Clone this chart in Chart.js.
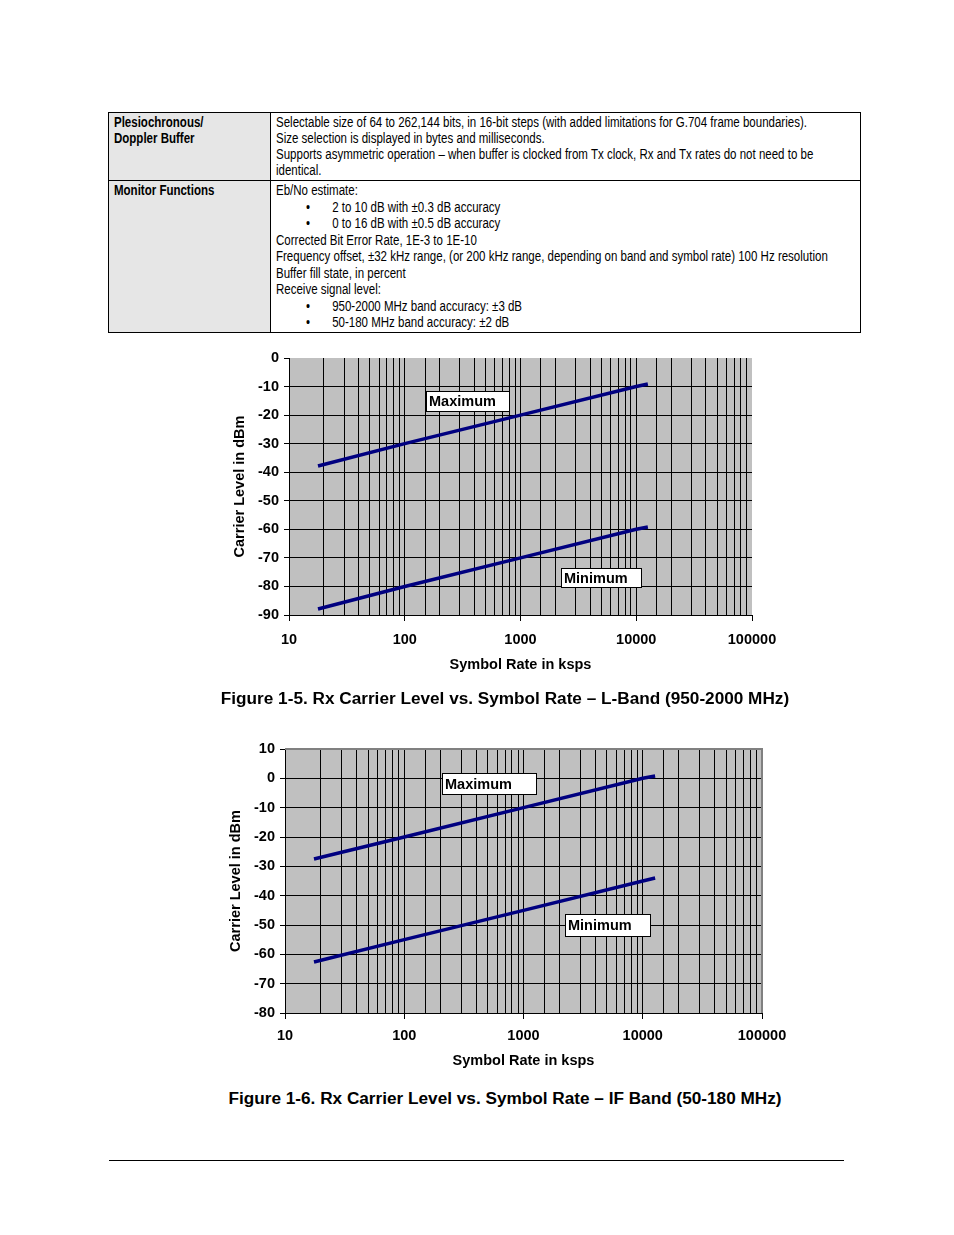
<!DOCTYPE html>
<html><head><meta charset="utf-8">
<script src="https://cdn.jsdelivr.net/npm/chart.js@4/dist/chart.umd.min.js"></script>
<style>
html,body{margin:0;padding:0;background:#fff;}
body{width:954px;height:1235px;position:relative;overflow:hidden;font-family:"Liberation Sans",Arial,sans-serif;}
table.spec{position:absolute;left:108px;top:112px;width:753px;border-collapse:collapse;font-family:"Liberation Sans",Arial,sans-serif;font-size:14px;color:#000;table-layout:fixed;}
table.spec td{border:1px solid #000;vertical-align:top;padding:1px 5px 0 5px;overflow:hidden;}
table.spec td.h{background:#e6e6e6;font-weight:bold;width:151px;}
table.spec .n{white-space:nowrap;transform:scaleX(0.822);transform-origin:0 0;}
.r1 td{height:66px;line-height:16px;}
.r2 td{height:150px;line-height:16.5px;}
.b{position:relative;padding-left:68.3px;}
.b:before{content:"\2022";position:absolute;left:36.6px;}
.chartbox{position:absolute;}
.cap{position:absolute;left:0;width:1010px;text-align:center;font-weight:bold;font-size:17.2px;white-space:nowrap;}
.rule{position:absolute;left:109px;top:1160px;width:735px;height:1px;background:#000;}
</style></head>
<body>
<table class="spec">
<tr class="r1"><td class="h"><div class="n">Plesiochronous/<br>Doppler Buffer</div></td>
<td><div class="n">Selectable size of 64 to 262,144 bits, in 16-bit steps (with added limitations for G.704 frame boundaries).<br>Size selection is displayed in bytes and milliseconds.<br>Supports asymmetric operation – when buffer is clocked from Tx clock, Rx and Tx rates do not need to be<br>identical.</div></td></tr>
<tr class="r2"><td class="h"><div class="n">Monitor Functions</div></td>
<td><div class="n">Eb/No estimate:<div class="b">2 to 10 dB with ±0.3 dB accuracy</div><div class="b">0 to 16 dB with ±0.5 dB accuracy</div>Corrected Bit Error Rate, 1E-3 to 1E-10<br>Frequency offset, ±32 kHz range, (or 200 kHz range, depending on band and symbol rate) 100 Hz resolution<br>Buffer fill state, in percent<br>Receive signal level:<div class="b">950-2000 MHz band accuracy: ±3 dB</div><div class="b">50-180 MHz band accuracy: ±2 dB</div></div></td></tr>
</table>

<div class="chartbox" style="left:220px;top:340px;width:570px;height:350px;"><canvas id="c1" width="570" height="350"></canvas></div>
<div class="cap" style="top:688px;">Figure 1-5. Rx Carrier Level vs. Symbol Rate – L-Band (950-2000 MHz)</div>

<div class="chartbox" style="left:220px;top:730px;width:570px;height:350px;"><canvas id="c2" width="570" height="350"></canvas></div>
<div class="cap" style="top:1088px;">Figure 1-6. Rx Carrier Level vs. Symbol Rate – IF Band (50-180 MHz)</div>

<div class="rule"></div>

<script>
// ---- data ----
const xTickLabels = ['10','100','1000','10000','100000'];

// Figure 1-5 (L-Band)
const lbandRate = [17.8, 100, 1000, 10000, 12600];
const lbandMax  = [-37.8, -30, -20, -10, -9.1];
const lbandMin  = [-87.9, -80, -70, -60, -59.2];

// Figure 1-6 (IF Band)
const ifRate = [17.5, 100, 1000, 10000, 12700];
const ifMax  = [-27.5, -20, -10, 0, 0.8];
const ifMin  = [-62.6, -55, -45, -35, -34];

const seriesNames = ['Maximum','Minimum'];

// label boxes in data coordinates: [x1, x2, yTop, yBottom]
const lbandBoxes = [[152, 794, -11.5, -18.6], [2240, 11000, -73.5, -80.2]];
const ifBoxes    = [[207, 1273, 1.8, -5.3], [2230, 11500, -46.3, -53.8]];

const FONT = '"Liberation Sans", Arial, sans-serif';
const NAVY = '#000080';

function pts(xs, ys){ return xs.map((x,i)=>({x:x, y:ys[i]})); }

const bgPlugin = {
  id:'bg',
  beforeDraw(chart, args, opts){
    const a = chart.chartArea, ctx = chart.ctx;
    ctx.save(); ctx.fillStyle = '#c0c0c0';
    ctx.fillRect(a.left, a.top, a.right-a.left, a.bottom-a.top);
    ctx.restore();
  },
  afterDatasetsDraw(chart, args, opts){
    const ctx = chart.ctx, xs = chart.scales.x, ys = chart.scales.y, a = chart.chartArea;
    if (opts.frame){
      ctx.save(); ctx.strokeStyle = '#808080'; ctx.lineWidth = 2;
      ctx.beginPath();
      ctx.moveTo(a.left, a.top); ctx.lineTo(a.right, a.top); ctx.lineTo(a.right, a.bottom);
      ctx.stroke(); ctx.restore();
    }
    (opts.boxes||[]).forEach((b,i)=>{
      const x1 = Math.round(xs.getPixelForValue(b[0]))+0.5, x2 = Math.round(xs.getPixelForValue(b[1]))+0.5;
      const y1 = Math.round(ys.getPixelForValue(b[2]))+0.5, y2 = Math.round(ys.getPixelForValue(b[3]))+0.5;
      ctx.save();
      ctx.fillStyle = '#fff'; ctx.fillRect(x1, y1, x2-x1, y2-y1);
      ctx.strokeStyle = '#000'; ctx.lineWidth = 1; ctx.strokeRect(x1, y1, x2-x1, y2-y1);
      ctx.fillStyle = '#000'; ctx.font = 'bold 14.5px ' + FONT;
      ctx.textBaseline = 'middle'; ctx.textAlign = 'left';
      ctx.fillText(seriesNames[i], x1+2.5, (y1+y2)/2+0.5);
      ctx.restore();
    });
  }
};

function makeChart(id, rate, maxV, minV, yMin, yMax, boxes, frame, pad, yW, xH, xLabPad, hideEdges){
  const isDecade = v => xTickLabels.includes(String(Math.round(v)));
  return new Chart(document.getElementById(id), {
    type:'scatter',
    data:{datasets:[
      {label:seriesNames[0], data:pts(rate,maxV), showLine:true, borderColor:NAVY, borderWidth:3.5, pointRadius:0, fill:false},
      {label:seriesNames[1], data:pts(rate,minV), showLine:true, borderColor:NAVY, borderWidth:3.5, pointRadius:0, fill:false}
    ]},
    options:{
      responsive:false, animation:false,
      layout:{padding:pad},
      plugins:{legend:{display:false}, tooltip:{enabled:false}, bg:{boxes:boxes, frame:frame}},
      scales:{
        x:{
          type:'logarithmic', min:10, max:100000, position:'bottom',
          afterFit(s){ s.height = xH; s.paddingLeft = 0; s.paddingRight = 0; },
          border:{display:true, color:'#000', width:1},
          grid:{
            color: c => (hideEdges && c.tick && Math.round(c.tick.value)===100000) ? 'rgba(0,0,0,0)' : '#000',
            lineWidth:1, drawTicks:true, tickLength:6,
            tickColor: c => (c.tick && isDecade(c.tick.value)) ? '#000' : 'rgba(0,0,0,0)'
          },
          ticks:{
            autoSkip:false, maxRotation:0, minRotation:0, padding:xLabPad, color:'#000',
            font:{family:FONT, size:14.5, weight:'bold'},
            callback:(v)=> isDecade(v) ? String(Math.round(v)) : ''
          },
          title:{display:true, text:'Symbol Rate in ksps', color:'#000', padding:0, font:{family:FONT, size:14.5, weight:'bold'}}
        },
        y:{
          type:'linear', min:yMin, max:yMax, position:'left',
          afterFit(s){ s.width = yW; s.paddingTop = 0; s.paddingBottom = 0; },
          border:{display:true, color:'#000', width:1},
          grid:{
            color: c => (hideEdges && c.tick && c.tick.value===yMax) ? 'rgba(0,0,0,0)' : '#000',
            lineWidth:1, tickLength:5, tickColor:'#000'
          },
          ticks:{stepSize:10, padding:5, color:'#000', font:{family:FONT, size:14.5, weight:'bold'}},
          title:{display:true, text:'Carrier Level in dBm', color:'#000', padding:0, font:{family:FONT, size:14.5, weight:'bold'}}
        }
      }
    },
    plugins:[bgPlugin]
  });
}

makeChart('c1', lbandRate, lbandMax, lbandMin, -90, 0, lbandBoxes, false,
  {left:11.6, top:18, right:38, bottom:16.6}, 57.4, 58.4, 10, true);
makeChart('c2', ifRate, ifMax, ifMin, -80, 10, ifBoxes, true,
  {left:7.6, top:19, right:28, bottom:10.6}, 57.4, 56.4, 8, false);
</script>
</body></html>
